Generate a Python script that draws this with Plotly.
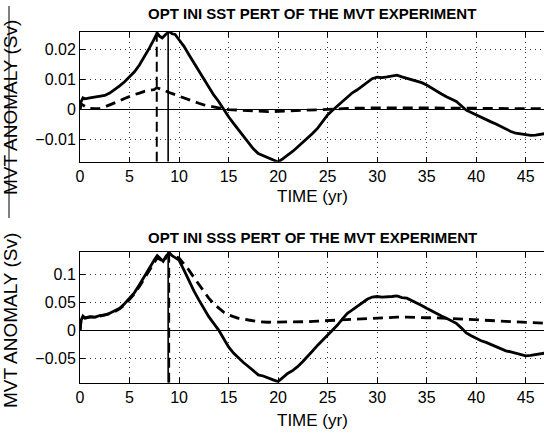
import plotly.graph_objects as go

# ---- MVT anomaly response, SST perturbation (top) ----
sst_t = [0, 0.1, 0.3, 0.5, 1.0, 1.5, 2.0, 2.5, 3.0, 3.5, 4.0, 4.5, 5.0, 5.5, 6.0, 6.5, 7.0, 7.5, 7.8,
         8.0, 8.3, 8.6, 9.0, 9.3, 9.6, 10.0, 10.5, 11.0, 11.5, 12.0, 12.5, 13.0, 13.5, 14.0, 14.5, 15.0,
         15.5, 16.0, 16.5, 17.0, 17.5, 18.0, 18.5, 19.0, 19.5, 20.0, 20.5, 21.0, 21.5, 22.0, 22.5, 23.0,
         23.5, 24.0, 24.5, 25.0, 25.5, 26.0, 26.5, 27.0, 27.5, 28.0, 28.5, 29.0, 29.5, 30.0, 30.5, 31.0,
         31.5, 32.0, 32.5, 33.0, 33.5, 34.0, 34.5, 35.0, 35.5, 36.0, 36.5, 37.0, 37.5, 38.0, 38.5, 39.0,
         39.5, 40.0, 40.5, 41.0, 41.5, 42.0, 42.5, 43.0, 43.5, 44.0, 44.5, 45.0, 45.5, 46.0, 46.5, 47.0]
sst_solid = [0, 0.0025, 0.0038, 0.0035, 0.0038, 0.0040, 0.0042, 0.0046, 0.0054, 0.0065, 0.0078, 0.0092,
             0.0107, 0.0125, 0.0148, 0.0175, 0.0204, 0.0235, 0.0255, 0.0245, 0.0238, 0.0248, 0.0260,
             0.0252, 0.0250, 0.0232, 0.0210, 0.0182, 0.0155, 0.0126, 0.0098, 0.0071, 0.0048, 0.0026,
             0.0000, -0.0025, -0.0047, -0.0069, -0.0092, -0.0114, -0.0132, -0.0148, -0.0155, -0.0164,
             -0.0170, -0.0176, -0.0165, -0.0153, -0.0140, -0.0125, -0.0110, -0.0097, -0.0080, -0.0063,
             -0.0042, -0.0019, -0.0003, 0.0011, 0.0027, 0.0042, 0.0055, 0.0065, 0.0078, 0.0092, 0.0102,
             0.0107, 0.0106, 0.0108, 0.0110, 0.0114, 0.0108, 0.0103, 0.0100, 0.0095, 0.0089, 0.0081,
             0.0071, 0.0059, 0.0051, 0.0042, 0.0034, 0.0026, 0.0012, -0.0003, -0.0011, -0.0019, -0.0028,
             -0.0036, -0.0042, -0.0049, -0.0058, -0.0066, -0.0074, -0.0080, -0.0083, -0.0086, -0.0087,
             -0.0086, -0.0083, -0.0081]

sst_dash_t = [0, 0.1, 0.4, 0.8, 1.5, 2.0, 2.5, 3.0, 3.5, 4.0, 4.5, 5.0, 5.5, 6.0, 6.5, 7.0, 7.5, 7.75,
              8.2, 8.5, 9.0, 9.5, 10.0, 10.5, 11.0, 11.5, 12.0, 12.5, 13.0, 13.5, 14.0, 14.5, 15, 16, 17,
              18, 19, 20, 21, 22, 23, 24, 25, 26, 27, 28, 30, 32, 34, 36, 38, 40, 42, 44, 46, 47]
sst_dash = [0, 0.0018, 0.0012, 0.0004, 0.0002, 0.0003, 0.0008, 0.0014, 0.0020, 0.0028, 0.0036, 0.0043,
            0.0049, 0.0054, 0.0060, 0.0063, 0.0066, 0.0072, 0.0068, 0.0063, 0.0056, 0.0050, 0.0043,
            0.0036, 0.0030, 0.0025, 0.0020, 0.0015, 0.0011, 0.0008, 0.0005, 0.0001, -0.0001, -0.0003,
            -0.0005, -0.0007, -0.0008, -0.0007, -0.0006, -0.0005, -0.0004, -0.0003, -0.0001, 0.0001,
            0.0003, 0.0004, 0.0005, 0.0005, 0.0005, 0.0004, 0.0004, 0.0003, 0.0003, 0.0002, 0.0002,
            0.0002]

# ---- MVT anomaly response, SSS perturbation (bottom) ----
sss_t = [0, 0.1, 0.3, 0.5, 1.0, 1.5, 2.0, 2.5, 3.0, 3.5, 4.0, 4.5, 5.0, 5.5, 6.0, 6.5, 7.0, 7.5, 7.8,
         8.1, 8.4, 8.7, 9.0, 9.3, 9.6, 10.0, 10.5, 11.0, 11.5, 12.0, 12.5, 13.0, 13.5, 14.0, 14.5, 15.0,
         15.5, 16.0, 16.5, 17.0, 17.5, 18.0, 18.5, 19.0, 19.5, 20.0, 20.5, 21.0, 21.5, 22.0, 22.5, 23.0,
         23.5, 24.0, 24.5, 25.0, 25.5, 26.0, 26.5, 27.0, 27.5, 28.0, 28.5, 29.0, 29.5, 30.0, 30.5, 31.0,
         31.5, 32.0, 32.5, 33.0, 33.5, 34.0, 34.5, 35.0, 35.5, 36.0, 36.5, 37.0, 37.5, 38.0, 38.5, 39.0,
         39.5, 40.0, 40.5, 41.0, 41.5, 42.0, 42.5, 43.0, 43.5, 44.0, 44.5, 45.0, 45.5, 46.0, 46.5, 47.0]
sss_solid = [0, 0.018, 0.026, 0.023, 0.025, 0.024, 0.027, 0.028, 0.031, 0.035, 0.040, 0.048, 0.058,
             0.068, 0.082, 0.097, 0.113, 0.126, 0.134, 0.128, 0.124, 0.133, 0.139, 0.134, 0.131, 0.126,
             0.108, 0.088, 0.071, 0.055, 0.040, 0.025, 0.013, 0.001, -0.014, -0.029, -0.040, -0.049,
             -0.057, -0.064, -0.072, -0.079, -0.081, -0.085, -0.088, -0.091, -0.083, -0.076, -0.071,
             -0.064, -0.055, -0.046, -0.036, -0.026, -0.017, -0.008, 0.001, 0.010, 0.021, 0.031, 0.037,
             0.043, 0.049, 0.056, 0.060, 0.061, 0.060, 0.060, 0.061, 0.062, 0.059, 0.058, 0.054, 0.050,
             0.045, 0.040, 0.035, 0.031, 0.026, 0.022, 0.018, 0.013, 0.005, -0.004, -0.009, -0.014,
             -0.018, -0.021, -0.025, -0.029, -0.033, -0.036, -0.038, -0.040, -0.043, -0.045, -0.044,
             -0.043, -0.041, -0.040]

sss_dash_t = [0, 0.1, 0.3, 0.5, 1.0, 1.5, 2.0, 2.5, 3.0, 3.5, 4.0, 4.5, 5.0, 5.5, 6.0, 6.5, 7.0, 7.5,
              7.8, 8.1, 8.4, 8.7, 9.0, 9.3, 9.6, 10.0, 10.5, 11.0, 11.5, 12.0, 12.5, 13.0, 13.5, 14.0,
              14.5, 15.0, 15.5, 16, 17, 18, 19, 20, 21, 22, 23, 24, 25, 26, 27, 28, 29, 30, 31, 32, 33,
              34, 35, 36, 37, 38, 39, 40, 41, 42, 43, 44, 45, 46, 47]
sss_dash = [0, 0.017, 0.025, 0.022, 0.024, 0.024, 0.026, 0.028, 0.030, 0.034, 0.039, 0.046, 0.056,
            0.066, 0.079, 0.093, 0.108, 0.122, 0.130, 0.127, 0.122, 0.131, 0.138, 0.135, 0.132, 0.130,
            0.120, 0.108, 0.095, 0.082, 0.070, 0.058, 0.048, 0.040, 0.033, 0.028, 0.025, 0.022, 0.019,
            0.016, 0.015, 0.015, 0.015, 0.016, 0.016, 0.017, 0.018, 0.019, 0.020, 0.021, 0.022, 0.023,
            0.023, 0.024, 0.024, 0.023, 0.023, 0.023, 0.022, 0.021, 0.020, 0.019, 0.018, 0.018, 0.017,
            0.016, 0.014, 0.013, 0.013]

# times of maximum anomaly (dashed run, solid run)
sst_peak_dash, sst_peak_solid = 7.75, 8.9
sss_peak_dash, sss_peak_solid = 9.0, 8.9

# axis ranges and ticks
x_range = [0, 46.85]
x_ticks = [0, 5, 10, 15, 20, 25, 30, 35, 40, 45]
sst_range = [-0.0175, 0.0259]
sst_ticks = [-0.01, 0, 0.01, 0.02]
sst_ticktext = ["\u22120.01", "0", "0.01", "0.02"]
sss_range = [-0.093, 0.141]
sss_ticks = [-0.05, 0, 0.05, 0.1]
sss_ticktext = ["\u22120.05", "0", "0.05", "0.1"]

titles = ["OPT INI SST PERT OF THE MVT EXPERIMENT", "OPT INI SSS PERT OF THE MVT EXPERIMENT"]
xlabel = "TIME (yr)"
ylabel = "MVT ANOMALY (Sv)"

W, H = 544, 434
FONT = "Liberation Sans, Arial, Helvetica, sans-serif"

fig = go.Figure()

def add_panel(idx, t_s, y_s, t_d, y_d, peak_d, peak_s, yr):
    xa = "x" if idx == 1 else "x2"
    ya = "y" if idx == 1 else "y2"
    fig.add_trace(go.Scatter(x=[peak_d, peak_d], y=yr, mode="lines", xaxis=xa, yaxis=ya,
                             line=dict(color="black", width=2, dash="10px,5px"), hoverinfo="skip"))
    fig.add_trace(go.Scatter(x=[peak_s, peak_s], y=yr, mode="lines", xaxis=xa, yaxis=ya,
                             line=dict(color="black", width=1.6), hoverinfo="skip"))
    fig.add_trace(go.Scatter(x=t_d, y=y_d, mode="lines", xaxis=xa, yaxis=ya,
                             line=dict(color="black", width=2.8, dash="10px,6px")))
    fig.add_trace(go.Scatter(x=t_s, y=y_s, mode="lines", xaxis=xa, yaxis=ya,
                             line=dict(color="black", width=2.8)))

add_panel(1, sst_t, sst_solid, sst_dash_t, sst_dash, sst_peak_dash, sst_peak_solid, sst_range)
add_panel(2, sss_t, sss_solid, sss_dash_t, sss_dash, sss_peak_dash, sss_peak_solid, sss_range)

# plot-area positions in pixels (top, bottom)
top_px = (31.7, 161.7)
bot_px = (251.7, 382.7)

def dom(px):
    return [1 - px[1] / H, 1 - px[0] / H]

axis_common = dict(showline=True, linecolor="black", linewidth=1, ticks="inside", ticklen=5,
                   tickcolor="black", showgrid=True, gridcolor="#333333", griddash="1px,4px",
                   gridwidth=1, tickfont=dict(family=FONT, size=16, color="black"))

fig.update_layout(
    width=W, height=H, margin=dict(l=80, r=0, t=0, b=0),
    paper_bgcolor="white", plot_bgcolor="white", showlegend=False,
    font=dict(family=FONT, color="black"),
    xaxis=dict(range=x_range, tickvals=x_ticks, mirror="allticks", anchor="y", domain=[0, 1],
               zeroline=False, **axis_common),
    yaxis=dict(range=sst_range, tickvals=sst_ticks, ticktext=sst_ticktext, mirror=False,
               domain=dom(top_px), anchor="x", zeroline=True, zerolinecolor="black",
               zerolinewidth=1, **axis_common),
    xaxis2=dict(range=x_range, tickvals=x_ticks, mirror="allticks", anchor="y2", domain=[0, 1],
                zeroline=False, **axis_common),
    yaxis2=dict(range=sss_range, tickvals=sss_ticks, ticktext=sss_ticktext, mirror=False,
                domain=dom(bot_px), anchor="x2", zeroline=True, zerolinecolor="black",
                zerolinewidth=1, **axis_common),
)

LABEL_X = (10 - 80) / (W - 80)   # 10 px from the left edge, in plot-area paper units

ann = []
for title, ty, ly, py in [(titles[0], 14, 196, 108), (titles[1], 237, 420, 321)]:
    ann.append(dict(text="<b>%s</b>" % title, x=0.5, xref="paper", y=1 - ty / H, yref="paper",
                    showarrow=False, xanchor="center", yanchor="middle",
                    font=dict(family=FONT, size=15, color="black")))
    ann.append(dict(text=xlabel, x=0.5, xref="paper", y=1 - ly / H, yref="paper",
                    showarrow=False, xanchor="center", yanchor="middle",
                    font=dict(family=FONT, size=17, color="black")))
    ann.append(dict(text=ylabel, x=LABEL_X, xref="paper", y=1 - py / H, yref="paper",
                    showarrow=False, textangle=-90, xanchor="center", yanchor="middle",
                    font=dict(family=FONT, size=19, color="black")))
fig.update_layout(annotations=ann)

# thin rule along the left edge of the upper panel label
fig.add_shape(type="line", xref="paper", yref="paper",
              x0=(9 - 80) / (W - 80), x1=(9 - 80) / (W - 80),
              y0=1 - 218 / H, y1=1 - 6 / H, line=dict(color="black", width=1))

fig.write_html("out.html")
